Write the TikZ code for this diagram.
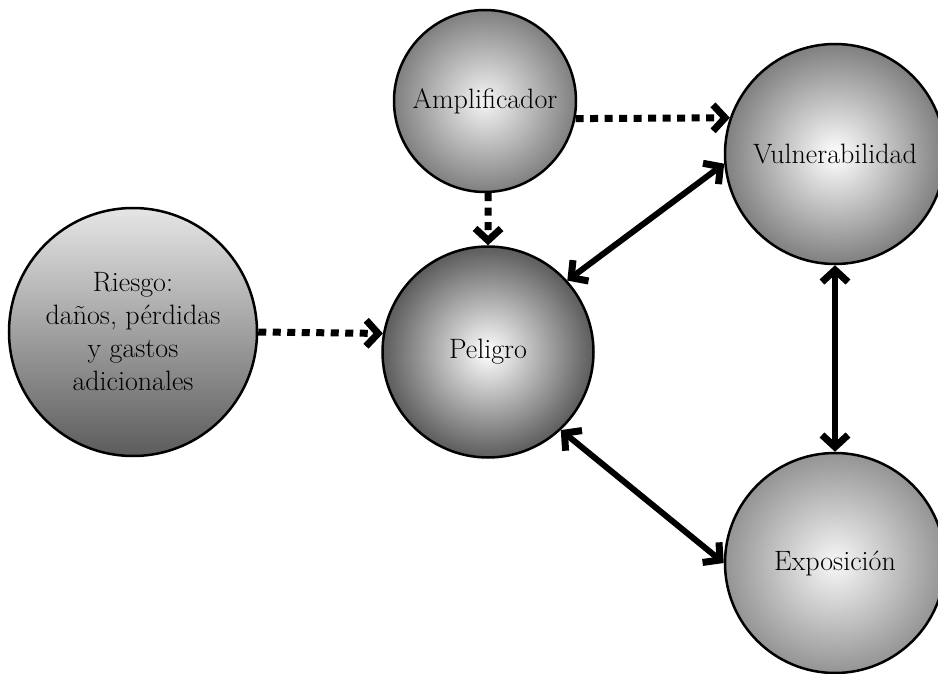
\documentclass[tikz,border=0pt]{standalone}
\usetikzlibrary{arrows.meta}
\begin{document}
\begin{tikzpicture}[x=1pt,y=-1pt,
  ball/.style={circle, draw=black, line width=2.5pt, inner sep=0pt, align=center,
    font=\fontsize{28}{33}\selectfont},
  tipa/.tip={Straight Barb[length=12pt,width=26pt,line width=7pt]},
  dotarrow/.style={line width=7pt, dash pattern=on 8pt off 6.5pt, -tipa},
  bothdir/.style={line width=6pt, tipa-tipa},
]
\useasboundingbox (0,0) rectangle (938,674);
\clip (0,0) rectangle (938,674);

\node[ball, minimum size=182pt, inner color=black!4, outer color=black!50] (amp) at (485,101) {Amplificador};
\node[ball, minimum size=220pt, inner color=white, outer color=black!50] (vul) at (835,154) {Vulnerabilidad};
\node[ball, minimum size=248pt, top color=black!10, bottom color=black!64] (rie) at (133,332)
  {Riesgo:\\da\~nos, p\'erdidas\\y gastos\\adicionales};
\node[ball, minimum size=211pt, inner color=white, outer color=black!64] (pel) at (488,352) {Peligro};
\node[ball, minimum size=220pt, inner color=black!3, outer color=black!42] (exp) at (835,563) {Exposici\'on};

\draw[dotarrow] (amp.-11.4) -- (vul.161.5);
\draw[dotarrow] (amp.272) -- (pel.90);
\draw[dotarrow] (rie.-0.7) -- (pel.170.7);
\draw[bothdir] (pel.42) -- (vul.185);
\draw[bothdir] (pel.313) -- (exp.180);
\draw[bothdir] (vul.270) -- (exp.90);
\end{tikzpicture}
\end{document}
